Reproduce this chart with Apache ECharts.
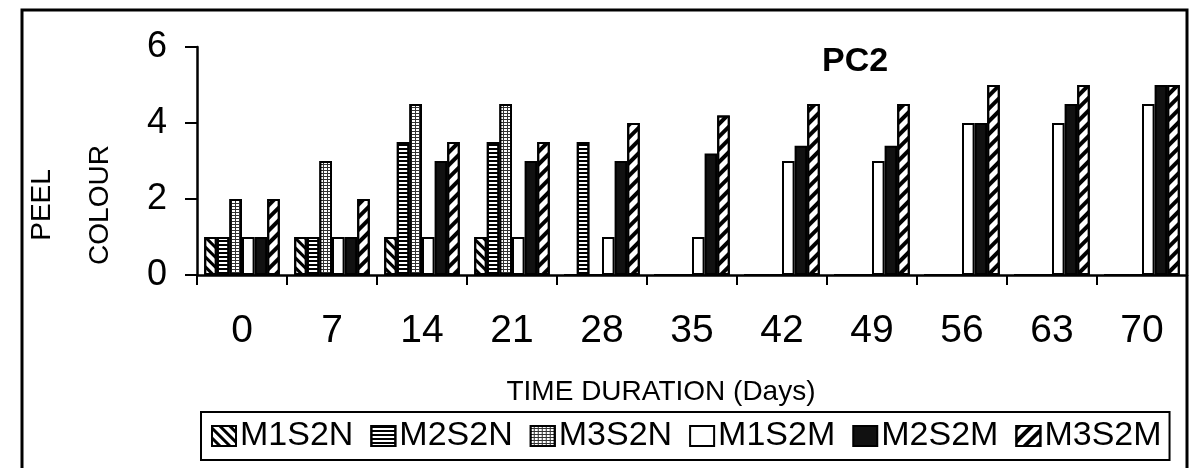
<!DOCTYPE html>
<html>
<head>
<meta charset="utf-8">
<script src="https://cdn.jsdelivr.net/npm/echarts@6/dist/echarts.min.js"></script>
<style>
  html, body { margin: 0; padding: 0; background: #fff; }
  #chart { width: 1199px; height: 468px; }
</style>
</head>
<body>
<div id="chart"></div>
<script>
// Storage time in days
const days = ['0', '7', '14', '21', '28', '35', '42', '49', '56', '63', '70'];
// Peel colour score per treatment
const M1S2N = [1, 1, 1, 1, 0, 0, 0, 0, 0, 0, 0];
const M2S2N = [1, 1, 3.5, 3.5, 3.5, 0, 0, 0, 0, 0, 0];
const M3S2N = [2, 3, 4.5, 4.5, 0, 0, 0, 0, 0, 0, 0];
const M1S2M = [1, 1, 1, 1, 1, 1, 3, 3, 4, 4, 4.5];
const M2S2M = [1, 1, 3, 3, 3, 3.2, 3.4, 3.4, 4, 4.5, 5];
const M3S2M = [2, 2, 3.5, 3.5, 4, 4.2, 4.5, 4.5, 5, 5, 5];
const yTicks = [0, 2, 4, 6];

const FONT = '"Liberation Sans", Arial, sans-serif';

// fill patterns for each treatment
const patterns = {
  M1S2N: { fill: '#fff', decal: { symbol: 'rect', color: '#000', dashArrayX: [1, 0], dashArrayY: [3, 4], rotation: Math.PI / 4 } },
  M2S2N: { fill: '#fff', decal: { symbol: 'rect', color: '#000', dashArrayX: [1, 0], dashArrayY: [2, 2], rotation: 0 } },
  M3S2N: { fill: '#333', decal: { symbol: 'rect', color: '#fff', dashArrayX: [3, 1], dashArrayY: [2, 1], rotation: 0 } },
  M1S2M: { fill: '#fff', decal: null },
  M2S2M: { fill: '#111', decal: null },
  M3S2M: { fill: '#fff', decal: { symbol: 'rect', color: '#000', dashArrayX: [1, 0], dashArrayY: [4, 5], rotation: -Math.PI / 4 } }
};

const seriesData = { M1S2N, M2S2N, M3S2N, M1S2M, M2S2M, M3S2M };

const series = Object.keys(seriesData).map(function (name) {
  const p = patterns[name];
  const itemStyle = { color: p.fill, borderColor: '#000', borderWidth: 2 };
  if (p.decal) itemStyle.decal = p.decal;
  return {
    name: name,
    type: 'bar',
    data: seriesData[name],
    barGap: '0%',
    barCategoryGap: '16%',
    itemStyle: itemStyle,
    emphasis: { disabled: true }
  };
});

const chart = echarts.init(document.getElementById('chart'), null, { renderer: 'canvas' });
chart.setOption({
  animation: false,
  backgroundColor: '#fff',
  title: {
    text: 'PC2',
    left: 817,
    top: 40,
    textStyle: { fontFamily: FONT, fontSize: 34, fontWeight: 'bold', color: '#000' }
  },
  legend: {
    left: 201,
    top: 412,
    padding: [7, 8, 7, 10],
    itemGap: 17,
    itemWidth: 24,
    itemHeight: 20,
    icon: 'rect',
    borderColor: '#000',
    borderWidth: 2,
    textStyle: { fontFamily: FONT, fontSize: 34, color: '#000', padding: [0, 0, 0, -1] },
    data: Object.keys(seriesData)
  },
  grid: { left: 197, right: 12, top: 47, bottom: 193, containLabel: false },
  xAxis: {
    type: 'category',
    data: days,
    boundaryGap: true,
    name: 'TIME DURATION (Days)',
    nameLocation: 'middle',
    nameGap: 103,
    nameTextStyle: { fontFamily: FONT, fontSize: 28, color: '#000', padding: [0, 62, 0, 0] },
    axisLine: { lineStyle: { color: '#000', width: 2.5 } },
    axisTick: { show: true, length: 10, inside: false, lineStyle: { color: '#000', width: 2 } },
    axisLabel: { fontFamily: FONT, fontSize: 39, color: '#000', margin: 37 },
    splitLine: { show: false }
  },
  yAxis: {
    type: 'value',
    min: yTicks[0],
    max: yTicks[yTicks.length - 1],
    interval: 2,
    name: 'PEEL\nCOLOUR',
    nameLocation: 'middle',
    nameRotate: 90,
    nameGap: 68,
    nameTextStyle: { fontFamily: FONT, fontSize: 28, color: '#000', lineHeight: 58, padding: [0, 88, 0, 0] },
    axisLine: { show: true, lineStyle: { color: '#000', width: 2.5 } },
    axisTick: { show: true, length: 12, inside: false, lineStyle: { color: '#000', width: 2 } },
    axisLabel: { fontFamily: FONT, fontSize: 36, color: '#000', margin: 30 },
    splitLine: { show: false }
  },
  graphic: [
    {
      type: 'rect',
      silent: true,
      shape: { x: 22, y: 10, width: 1165, height: 480 },
      style: { fill: null, stroke: '#000', lineWidth: 3 }
    }
  ],
  series: series
});
</script>
</body>
</html>
